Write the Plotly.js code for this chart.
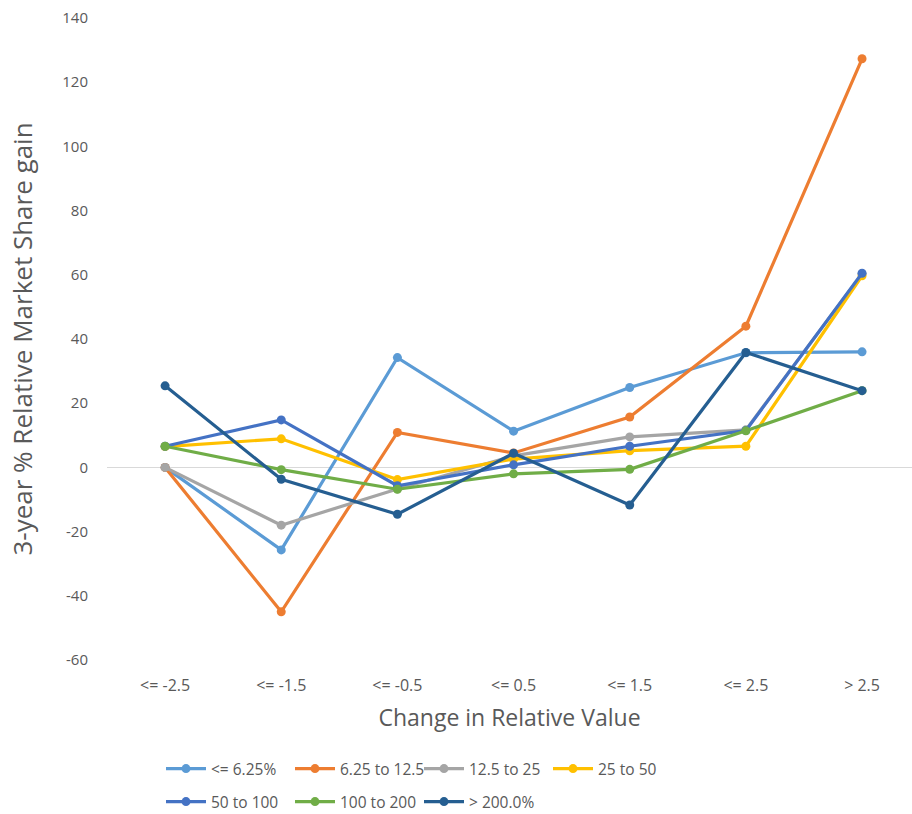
<!DOCTYPE html>
<html>
<head>
<meta charset="utf-8">
<script src="https://cdn.plot.ly/plotly-3.0.1.min.js"></script>
<style>html,body{margin:0;padding:0;background:#fff;overflow:hidden}#chart{width:912px;height:814px}</style>
</head>
<body>
<div id="chart"></div>
<script>
const categories = ["<= -2.5", "<= -1.5", "<= -0.5", "<= 0.5", "<= 1.5", "<= 2.5", "> 2.5"];
const seriesNames = ["<= 6.25%", "6.25 to 12.5", "12.5 to 25", "25 to 50", "50 to 100", "100 to 200", "> 200.0%"];
const s1 = [0, -25.7, 34.2, 11.3, 24.9, 35.7, 36.0];
const s2 = [0, -45.0, 10.9, 4.5, 15.7, 44.0, 127.3];
const s3 = [0, -18.0, -6.7, 3.6, 9.5, 11.7, 60.3];
const s4 = [6.5, 8.9, -3.8, 2.6, 5.2, 6.6, 59.7];
const s5 = [6.6, 14.8, -5.7, 0.8, 6.6, 11.5, 60.5];
const s6 = [6.6, -0.7, -6.8, -2.0, -0.6, 11.4, 23.9];
const s7 = [25.4, -3.7, -14.6, 4.4, -11.7, 35.8, 23.9];
const yTicks = [-60, -40, -20, 0, 20, 40, 60, 80, 100, 120, 140];
const yTickText = ["-60", "-40", "-20", "0", "20", "40", "60", "80", "100", "120", "140"];

const values = [s1, s2, s3, s4, s5, s6, s7];
const colors = ["#5B9BD5", "#ED7D31", "#A5A5A5", "#FFC000", "#4472C4", "#70AD47", "#255E91"];

const traces = values.map((v, i) => ({
  type: 'scatter',
  mode: 'lines+markers',
  x: categories,
  y: v,
  name: seriesNames[i],
  line: {color: colors[i], width: 3.2},
  marker: {color: colors[i], size: 9},
  legend: i < 4 ? 'legend' : 'legend2'
}));

const fontFam = '"Open Sans", sans-serif';
const legendBase = {
  orientation: 'h',
  xref: 'container', yref: 'container',
  xanchor: 'left', yanchor: 'middle',
  font: {family: fontFam, size: 15.5, color: '#595959'},
  itemwidth: 40,
  entrywidth: 74, entrywidthmode: 'pixels',
  tracegroupgap: 0,
  bgcolor: 'rgba(0,0,0,0)'
};

const layout = {
  width: 912, height: 814,
  margin: {l: 107, r: 0, t: 18, b: 154},
  paper_bgcolor: '#fff', plot_bgcolor: '#fff',
  font: {family: fontFam, color: '#595959'},
  showlegend: true,
  xaxis: {
    type: 'category',
    range: [-0.5, 6.43],
    showgrid: false, zeroline: false, showline: false, ticks: '',
    tickfont: {family: fontFam, size: 16, color: '#595959'},
    ticklabelstandoff: 14,
    title: {text: 'Change in Relative Value', font: {family: fontFam, size: 23, color: '#595959'}, standoff: 14}
  },
  yaxis: {
    range: [-60, 140],
    tickvals: yTicks,
    ticktext: yTickText,
    showgrid: false, zeroline: true, zerolinecolor: '#D9D9D9', zerolinewidth: 1.3,
    showline: false, ticks: '',
    tickfont: {family: fontFam, size: 15, color: '#595959'},
    ticklabelstandoff: 18,
    title: {text: '3-year % Relative Market Share gain', font: {family: fontFam, size: 26, color: '#595959'}, standoff: 22}
  },
  legend: Object.assign({}, legendBase, {x: 161/912, y: 1 - 769/814}),
  legend2: Object.assign({}, legendBase, {x: 161/912, y: 1 - 802/814})
};

Plotly.newPlot('chart', traces, layout, {displayModeBar: false, staticPlot: true});
</script>
</body>
</html>
